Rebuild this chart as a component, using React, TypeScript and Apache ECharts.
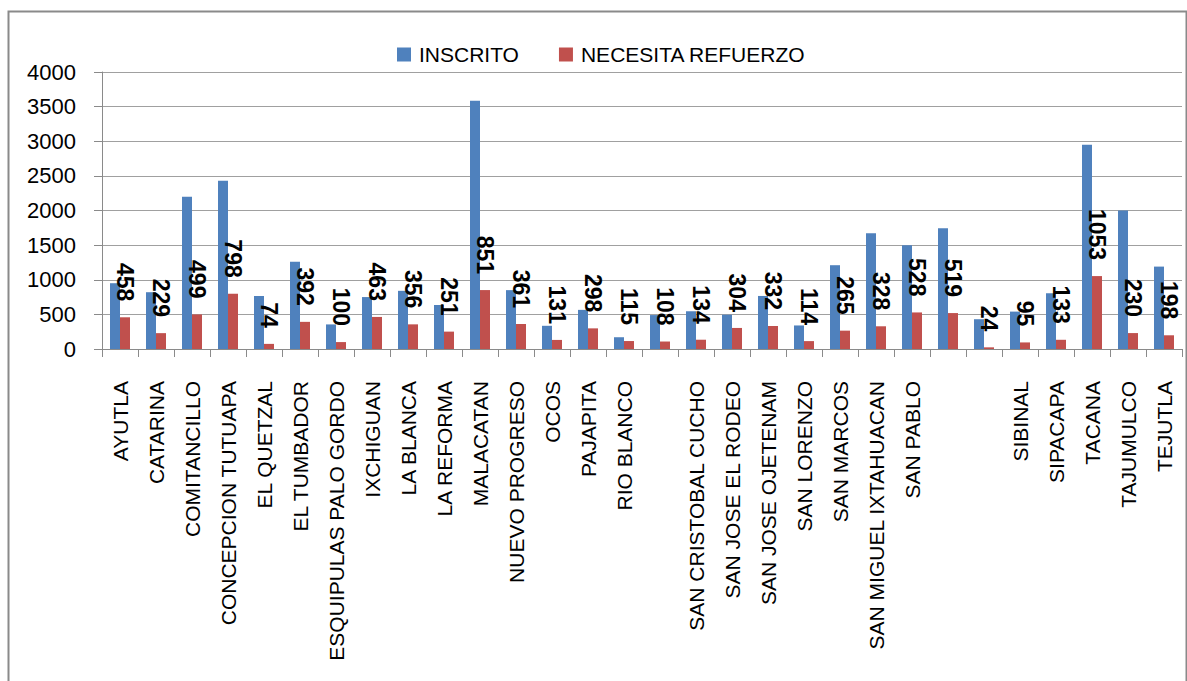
import React, { useEffect, useRef } from "react";
import * as echarts from "echarts";

const categories = [
  "AYUTLA", "CATARINA", "COMITANCILLO", "CONCEPCION TUTUAPA", "EL QUETZAL",
  "EL TUMBADOR", "ESQUIPULAS PALO GORDO", "IXCHIGUAN", "LA BLANCA", "LA REFORMA",
  "MALACATAN", "NUEVO PROGRESO", "OCOS", "PAJAPITA", "RIO BLANCO",
  "", "SAN CRISTOBAL CUCHO", "SAN JOSE EL RODEO", "SAN JOSE OJETENAM", "SAN LORENZO",
  "SAN MARCOS", "SAN MIGUEL IXTAHUACAN", "SAN PABLO", "", "",
  "SIBINAL", "SIPACAPA", "TACANA", "TAJUMULCO", "TEJUTLA",
];

const inscrito = [
  950, 820, 2200, 2430, 765,
  1260, 355, 750, 840, 635,
  3585, 850, 335, 565, 170,
  490, 545, 495, 766, 340,
  1210, 1670, 1500, 1745, 430,
  540, 805, 2950, 2000, 1190,
];

const necesitaRefuerzo = [
  458, 229, 499, 798, 74,
  392, 100, 463, 356, 251,
  851, 361, 131, 298, 115,
  108, 134, 304, 332, 114,
  265, 328, 528, 519, 24,
  95, 133, 1053, 230, 198,
];

const seriesNames = ["INSCRITO", "NECESITA REFUERZO"];

const FONT = "'Liberation Sans', Arial, sans-serif";

export default function App() {
  const ref = useRef<HTMLDivElement>(null);

  useEffect(() => {
    if (!ref.current) return;
    const chart = echarts.init(ref.current, undefined, { renderer: "svg" });
    chart.setOption({
      animation: false,
      backgroundColor: "#ffffff",
      textStyle: { fontFamily: FONT },
      graphic: [
        {
          type: "rect",
          left: 6,
          top: 9,
          shape: { x: 0, y: 0, width: 1178, height: 700 },
          style: { fill: "none", stroke: "#8a8a8a", lineWidth: 2 },
          silent: true,
          z: 100,
        },
      ],
      legend: {
        top: 39,
        left: 392,
        itemWidth: 14,
        itemHeight: 14,
        itemGap: 40,
        icon: "rect",
        textStyle: { fontFamily: FONT, fontSize: 21, color: "#000", padding: [0, 0, 0, 3] },
        data: seriesNames,
      },
      grid: { left: 102, right: 5, top: 72, bottom: 332, containLabel: false },
      xAxis: {
        type: "category",
        data: categories,
        axisLine: { lineStyle: { color: "#8a8a8a", width: 1 } },
        axisTick: { show: true, length: 8, lineStyle: { color: "#8a8a8a" } },
        axisLabel: {
          interval: 0,
          rotate: 90,
          margin: 32,
          fontFamily: FONT,
          fontSize: 21,
          color: "#000",
        },
      },
      yAxis: {
        type: "value",
        min: 0,
        max: 4000,
        interval: 500,
        axisLine: { show: true, lineStyle: { color: "#8a8a8a", width: 1 } },
        axisTick: { show: true, length: 8, lineStyle: { color: "#8a8a8a" } },
        splitLine: { lineStyle: { color: "#a0a0a0", width: 1 } },
        axisLabel: {
          margin: 26,
          fontFamily: FONT,
          fontSize: 22,
          color: "#000",
          formatter: (v: number) => String(v),
        },
      },
      series: [
        {
          name: seriesNames[0],
          type: "bar",
          data: inscrito,
          barWidth: 10,
          barGap: "0%",
          itemStyle: { color: "#4F81BD" },
        },
        {
          name: seriesNames[1],
          type: "bar",
          data: necesitaRefuerzo,
          barWidth: 10,
          barGap: "0%",
          itemStyle: { color: "#C0504D" },
          label: {
            show: true,
            position: "top",
            distance: 16,
            rotate: -90,
            align: "right",
            verticalAlign: "middle",
            fontFamily: FONT,
            fontWeight: "bold",
            fontSize: 23,
            color: "#000",
          },
          z: 3,
        },
      ],
    });
    return () => chart.dispose();
  }, []);

  return (
    <div
      ref={ref}
      style={{ position: "absolute", left: 0, top: 0, width: 1187, height: 681 }}
    />
  );
}
